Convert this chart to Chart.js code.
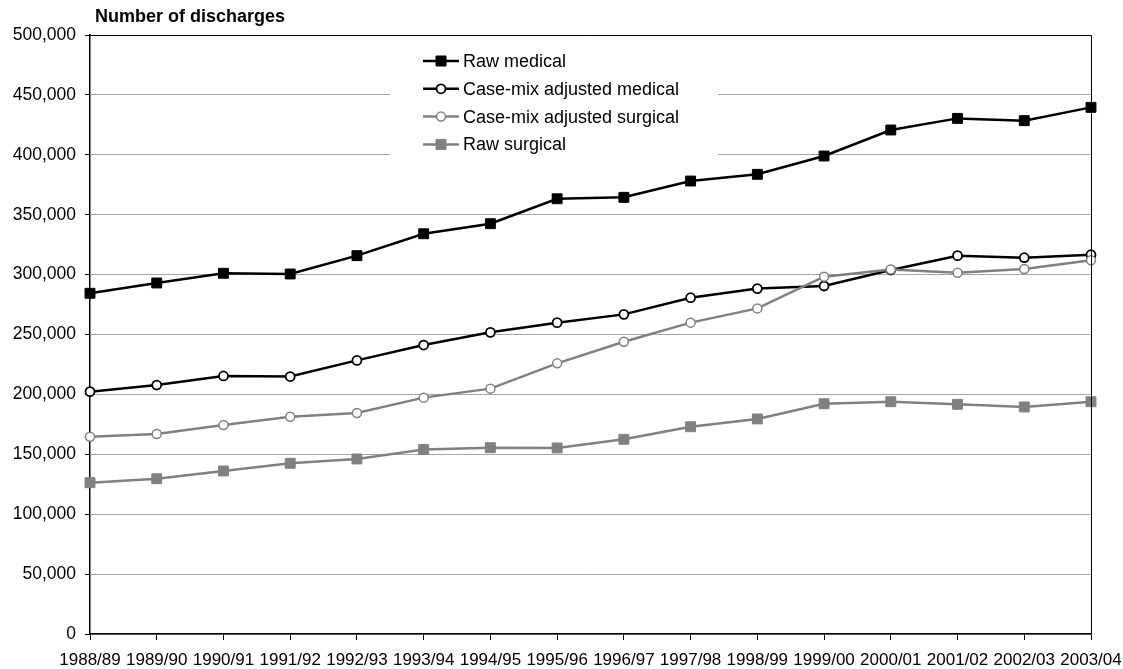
<!DOCTYPE html>
<html>
<head>
<meta charset="utf-8">
<script src="https://cdn.jsdelivr.net/npm/chart.js@4.4.1/dist/chart.umd.min.js"></script>
<style>
  html, body { margin: 0; padding: 0; background: #fff; }
  #chart { display: block; }
</style>
</head>
<body>
<canvas id="chart" width="1123" height="669"></canvas>
<script>
const categories = ['1988/89', '1989/90', '1990/91', '1991/92', '1992/93', '1993/94', '1994/95', '1995/96',
  '1996/97', '1997/98', '1998/99', '1999/00', '2000/01', '2001/02', '2002/03', '2003/04'];

const rawMedical = [284400, 293000, 301100, 300500, 315800, 334100, 342500, 363300,
  364500, 378100, 383700, 399000, 420700, 430400, 428500, 439600];
const adjMedical = [202300, 207800, 215400, 214900, 228400, 241200, 251800, 259900,
  266800, 280700, 288300, 290500, 303800, 315800, 314100, 316600];
const adjSurgical = [164700, 166900, 174500, 181400, 184500, 197300, 204800, 225900,
  244000, 259900, 271800, 298300, 304300, 301600, 304700, 311900];
const rawSurgical = [126300, 129600, 136100, 142500, 146100, 154100, 155500, 155300,
  162500, 173000, 179500, 192200, 193900, 191700, 189500, 193900];

const seriesNames = ['Raw medical', 'Case-mix adjusted medical', 'Case-mix adjusted surgical', 'Raw surgical'];
const yTitle = 'Number of discharges';

const FONT = '"Liberation Sans", Arial, sans-serif';
const GREY = '#808080';

// white legend box drawn under the lines, plus top/right frame and axis title
const extras = {
  id: 'extras',
  beforeDatasetsDraw(chart) {
    const ctx = chart.ctx;
    ctx.save();
    ctx.fillStyle = '#fff';
    ctx.fillRect(390, 46, 328, 120);

    chart.data.datasets.forEach((ds, i) => {
      const y = 61 + i * 27.8;
      ctx.strokeStyle = ds.borderColor;
      ctx.lineWidth = 2.5;
      ctx.beginPath();
      ctx.moveTo(423, y);
      ctx.lineTo(459, y);
      ctx.stroke();

      ctx.fillStyle = ds.pointBackgroundColor;
      ctx.strokeStyle = ds.pointBorderColor;
      ctx.lineWidth = ds.pointBorderWidth;
      ctx.beginPath();
      if (ds.pointStyle === 'rect') {
        ctx.rect(436, y - 5, 10, 10);
      } else {
        ctx.arc(441, y, ds.pointRadius, 0, Math.PI * 2);
      }
      ctx.fill();
      ctx.stroke();

      ctx.fillStyle = '#000';
      ctx.font = '18px ' + FONT;
      ctx.textBaseline = 'middle';
      ctx.textAlign = 'left';
      ctx.fillText(ds.label, 463, y + 1);
    });
    ctx.restore();
  },
  afterDraw(chart) {
    const ctx = chart.ctx;
    const a = chart.chartArea;
    ctx.save();
    ctx.strokeStyle = '#000';
    ctx.lineWidth = 1;
    ctx.beginPath();
    ctx.moveTo(a.left, a.top + 0.5);
    ctx.lineTo(a.right + 0.5, a.top + 0.5);
    ctx.lineTo(a.right + 0.5, a.bottom);
    ctx.stroke();

    ctx.fillStyle = '#000';
    ctx.font = 'bold 18px ' + FONT;
    ctx.textBaseline = 'middle';
    ctx.textAlign = 'left';
    ctx.fillText(yTitle, 95, 17);
    ctx.restore();
  }
};

new Chart(document.getElementById('chart'), {
  type: 'line',
  data: {
    labels: categories,
    datasets: [
      {
        label: seriesNames[0],
        data: rawMedical,
        borderColor: '#000',
        borderWidth: 2.5,
        pointStyle: 'rect',
        pointRadius: 7,
        pointBackgroundColor: '#000',
        pointBorderColor: '#000',
        pointBorderWidth: 1,
        order: 3
      },
      {
        label: seriesNames[1],
        data: adjMedical,
        borderColor: '#000',
        borderWidth: 2.5,
        pointStyle: 'circle',
        pointRadius: 4.5,
        pointBackgroundColor: '#fff',
        pointBorderColor: '#000',
        pointBorderWidth: 1.8,
        order: 2
      },
      {
        label: seriesNames[2],
        data: adjSurgical,
        borderColor: GREY,
        borderWidth: 2.5,
        pointStyle: 'circle',
        pointRadius: 4.5,
        pointBackgroundColor: '#fff',
        pointBorderColor: GREY,
        pointBorderWidth: 1.5,
        order: 1
      },
      {
        label: seriesNames[3],
        data: rawSurgical,
        borderColor: GREY,
        borderWidth: 2.5,
        pointStyle: 'rect',
        pointRadius: 7,
        pointBackgroundColor: GREY,
        pointBorderColor: GREY,
        pointBorderWidth: 1,
        order: 4
      }
    ]
  },
  options: {
    responsive: false,
    animation: false,
    devicePixelRatio: 1,
    layout: { padding: { top: 35, right: 32, left: 0, bottom: 0 } },
    elements: { line: { tension: 0 } },
    plugins: {
      legend: { display: false },
      tooltip: { enabled: false }
    },
    scales: {
      x: {
        afterFit: s => { s.height = 35; s.paddingLeft = 0; s.paddingRight = 0; },
        grid: { drawOnChartArea: false, tickLength: 6, tickColor: '#000' },
        border: { color: '#000', width: 1.5 },
        ticks: {
          color: '#000',
          font: { family: FONT, size: 17 },
          maxRotation: 0,
          minRotation: 0,
          autoSkip: false,
          padding: 10
        }
      },
      y: {
        min: 0,
        max: 500000,
        afterFit: s => { s.width = 90; },
        grid: { color: '#a6a6a6', lineWidth: 1, tickLength: 5, tickColor: '#000' },
        border: { color: '#000', width: 1.5 },
        ticks: {
          stepSize: 50000,
          color: '#000',
          font: { family: FONT, size: 17.5 },
          padding: 9,
          callback: v => v.toLocaleString('en-US')
        }
      }
    }
  },
  plugins: [extras]
});
</script>
</body>
</html>
